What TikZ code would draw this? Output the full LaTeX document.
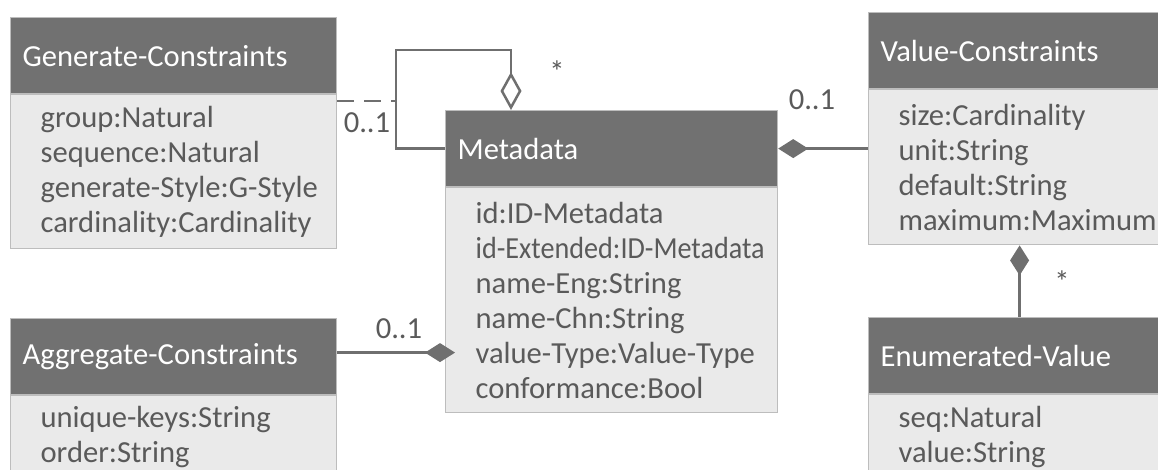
\documentclass[tikz,border=0pt]{standalone}
\usepackage{fontspec}
\setmainfont{Carlito}
\usepackage{tikz}
\usetikzlibrary{arrows.meta, positioning, shapes}
\usepackage{xcolor}
\definecolor{headgray}{HTML}{717171}
\definecolor{bodygray}{HTML}{EAEAEA}
\definecolor{boxline}{HTML}{BDBDBD}
\definecolor{bodytext}{HTML}{5A5A5A}
\definecolor{linegray}{HTML}{6F6F6F}
\hyphenpenalty=10000
\exhyphenpenalty=10000

\begin{document}
\begin{tikzpicture}[
  x=0.5pt, y=-0.5pt,
  every node/.style={font=\fontsize{15.3}{17.5}\selectfont},
  head/.style   ={rectangle, draw=boxline, line width=0.6pt, fill=headgray, text=white, minimum height=38pt, inner xsep=6pt, text width=#1, align=left, anchor=north west},
  body/.style   ={rectangle, draw=boxline, line width=0.6pt, fill=bodygray, text=bodytext, inner xsep=15pt, text width=#1, align=left},
  mult/.style   ={text=bodytext, inner sep=0pt},
  assoc/.style  ={draw=linegray, line width=1.25pt},
  agg/.style    ={-{Diamond[open, length=19pt, width=10.5pt]}},
  comp/.style   ={{Diamond[length=15pt, width=9.5pt]}-},
  compend/.style={-{Diamond[length=15pt, width=9.5pt]}},
  gendash/.style={dash pattern=on 8.5pt off 5pt}
]
\useasboundingbox (0,0) rectangle (1158,470);

%% Metadata (the central class)
\node[head=154pt] (metaH) at (445,110) {Metadata};
\node[body=136pt, minimum height=112.5pt, below=0pt of metaH] (metaB)
  {id:ID-Metadata\\\scalebox{0.92}[1]{id-Extended:ID-Metadata}\\name-Eng:String\\name-Chn:String\\value-Type:Value-Type\\conformance:Bool};

%% Left column: generate / aggregate constraints
\node[head=151pt] (gcH) at (10,17) {Generate-Constraints};
\node[body=133pt, minimum height=77pt, below=0pt of gcH] (gcB)
  {group:Natural\\sequence:Natural\\generate-Style:G-Style\\cardinality:Cardinality};
\node[head=151pt] (acH) at (10,318) {Aggregate-Constraints};
\node[body=133pt, minimum height=41pt, below=0pt of acH] (acB)
  {unique-keys:String\\order:String};

%% Right column: value constraints and enumerated values
\node[head=139pt] (vcH) at (868,12) {Value-Constraints};
\node[body=121pt, minimum height=77.5pt, below=0pt of vcH] (vcB)
  {size:Cardinality\\unit:String\\default:String\\maximum:Maximum};
\node[head=139pt] (evH) at (868,317) {Enumerated-Value};
\node[body=121pt, minimum height=42pt, below=0pt of evH] (evB)
  {seq:Natural\\value:String};

%% Self aggregation of Metadata, joined by Generate-Constraints
\coordinate (loopL) at (396,50);
\coordinate (loopR) at (511,50);
\coordinate (gcJ)   at (396,101);
\draw[assoc, agg] (metaH.west) -| (loopL) -- (loopR) -- (loopR |- metaH.north);
\draw[assoc, gendash] (gcB.east |- gcJ) -- (gcJ);
\node[mult] (gcM)   at (367,123) {0..1};
\node[mult] (loopM) at (557,72)  {*};

%% Compositions
\draw[assoc, comp] (metaH.east) -- (metaH.east -| vcB.west);
\node[mult] (vcM) at (812,100) {0..1};

\draw[assoc, compend, shorten >=-5pt] ([yshift=2pt]acH.east) -- ([yshift=2pt]acH.east -| metaB.west);
\node[mult] (acM) at (399,329) {0..1};

\draw[assoc, comp] (vcB.south) -- (evH.north);
\node[mult] (evM) at (1062,282) {*};

\end{tikzpicture}
\end{document}
